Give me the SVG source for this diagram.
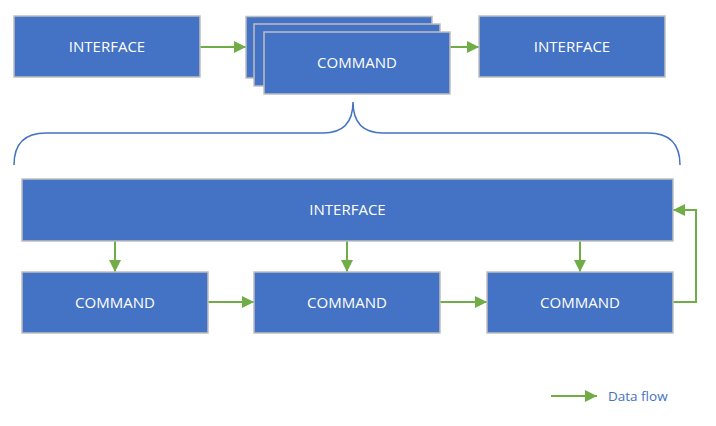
<svg xmlns="http://www.w3.org/2000/svg" width="716" height="426" viewBox="0 0 716 426">
<defs>
<style>
.box{fill:#4472c4;stroke:#bfbfbf;stroke-width:1.5}
.lbl{fill:#fff;font-family:"Open Sans","Noto Sans",sans-serif;font-size:15px;text-anchor:middle;dominant-baseline:central}
.flow{stroke:#70ad47;stroke-width:2;fill:none;marker-end:url(#ah)}
</style>
<marker id="ah" viewBox="0 0 10 10" refX="10" refY="5" markerWidth="6" markerHeight="6" markerUnits="strokeWidth" orient="auto">
<path d="M0,0L10,5L0,10z" fill="#70ad47"/>
</marker>
</defs>
<rect width="716" height="426" fill="#fff"/>
<g id="connectors">
<line class="flow" x1="200" y1="47" x2="246" y2="47"/>
<line class="flow" x1="450" y1="47" x2="479" y2="47"/>
<line class="flow" x1="115" y1="241" x2="115" y2="272"/>
<line class="flow" x1="347" y1="241" x2="347" y2="272"/>
<line class="flow" x1="580" y1="241" x2="580" y2="272"/>
<line class="flow" x1="208" y1="302" x2="254" y2="302"/>
<line class="flow" x1="440" y1="302" x2="487" y2="302"/>
<path class="flow" d="M673,302H696V210H673"/>
</g>
<g id="brace">
<path d="M14,165Q14,133 46,133H323Q353,133 353,102Q353,133 383,133H648Q680,133 680,165" fill="none" stroke="#4472c4" stroke-width="1.5"/>
</g>
<g id="interface-top-left">
<rect class="box" x="14" y="16" width="186" height="61"/>
<text class="lbl" x="107" y="45.5">INTERFACE</text>
</g>
<g id="command-stack">
<rect class="box" x="246" y="16.5" width="186" height="61.5"/>
<rect class="box" x="254" y="24" width="186" height="62"/>
<rect class="box" x="264" y="32" width="186" height="62"/>
<text class="lbl" x="357" y="62">COMMAND</text>
</g>
<g id="interface-top-right">
<rect class="box" x="479" y="16" width="186" height="61"/>
<text class="lbl" x="572" y="45.5">INTERFACE</text>
</g>
<g id="interface-main">
<rect class="box" x="22" y="179" width="651" height="62"/>
<text class="lbl" x="347.5" y="209">INTERFACE</text>
</g>
<g id="command-1">
<rect class="box" x="22" y="272" width="186" height="61"/>
<text class="lbl" x="115" y="301.5">COMMAND</text>
</g>
<g id="command-2">
<rect class="box" x="254" y="272" width="186" height="61"/>
<text class="lbl" x="347" y="301.5">COMMAND</text>
</g>
<g id="command-3">
<rect class="box" x="487" y="272" width="186" height="61"/>
<text class="lbl" x="580" y="301.5">COMMAND</text>
</g>
<g id="legend">
<line class="flow" x1="551" y1="396" x2="597" y2="396"/>
<text x="608" y="395.5" font-family="'Open Sans','Noto Sans',sans-serif" font-size="13.5" fill="#4472c4" dominant-baseline="central">Data flow</text>
</g>
</svg>
